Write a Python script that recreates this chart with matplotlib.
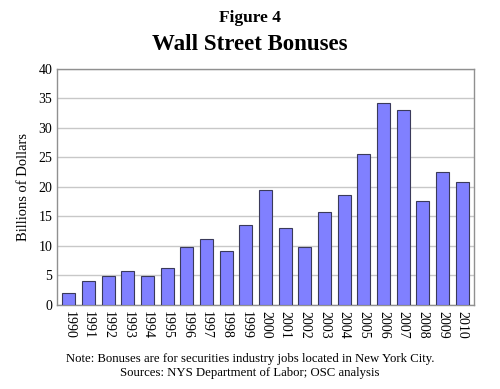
import matplotlib
matplotlib.use("Agg")
import matplotlib.pyplot as plt
import numpy as np

plt.rcParams["font.family"] = ["Liberation Serif", "DejaVu Serif"]

years = [str(y) for y in range(1990, 2011)]
bonuses = [2.1, 4.1, 4.9, 5.8, 4.9, 6.2, 9.8, 11.2, 9.1, 13.5, 19.5,
           13.0, 9.8, 15.8, 18.6, 25.6, 34.3, 33.0, 17.6, 22.5, 20.8]

fig = plt.figure(figsize=(5.0, 3.89), dpi=100)
ax = fig.add_axes([0.114, 0.216, 0.834, 0.607])

x = np.arange(len(years))
ax.bar(x, bonuses, width=0.66, color="#8080ff", edgecolor="#3a3a5a",
       linewidth=0.8, zorder=3)

ax.set_ylim(0, 40)
ax.set_yticks(range(0, 41, 5))
ax.set_xlim(-0.6, len(years) - 0.4)
ax.set_xticks(x)
ax.set_xticklabels(years, rotation=270, fontsize=10)
ax.tick_params(axis="y", labelsize=10, length=0)
ax.tick_params(axis="x", length=0, pad=4)
ax.yaxis.grid(True, color="#c8c8c8", linewidth=1.0, zorder=0)
for s in ax.spines.values():
    s.set_color("#909090")
    s.set_linewidth(1.0)
ax.set_ylabel("Billions of Dollars", fontsize=10.5, labelpad=6)

fig.text(0.5, 0.955, "Figure 4", ha="center", va="center",
         fontsize=12.5, fontweight="bold")
fig.text(0.5, 0.885, "Wall Street Bonuses", ha="center", va="center",
         fontsize=16.5, fontweight="bold")
fig.text(0.5, 0.077,
         "Note: Bonuses are for securities industry jobs located in New York City.",
         ha="center", va="center", fontsize=9.2)
fig.text(0.5, 0.042, "Sources: NYS Department of Labor; OSC analysis",
         ha="center", va="center", fontsize=9.2)

fig.savefig("out.png", dpi=100)
